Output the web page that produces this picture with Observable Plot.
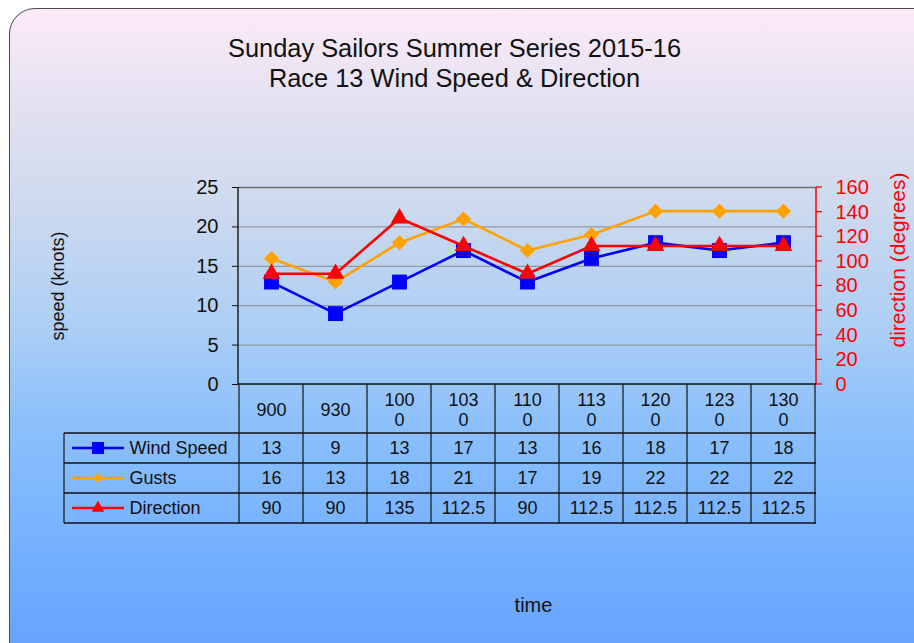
<!DOCTYPE html>
<html>
<head>
<meta charset="utf-8">
<script src="https://cdn.jsdelivr.net/npm/d3@7"></script>
<script src="https://cdn.jsdelivr.net/npm/@observablehq/plot@0.6"></script>
<style>
  html, body { margin: 0; padding: 0; background: #ffffff; }
  body { width: 914px; height: 643px; overflow: hidden; position: relative; font-family: "Liberation Sans", Arial, sans-serif; }
  #bg {
    position: absolute; left: 9px; top: 8px; width: 940px; height: 680px;
    border: 1px solid #4a4a4a; border-radius: 26px;
    background: linear-gradient(to bottom, #fdeaf8 0%, #e3e1f1 14%, #cfdaee 28%, #aecff5 46%, #8dc1fb 60%, #74b0ff 80%, #5f9eff 100%);
  }
  #chart { position: absolute; left: 0; top: 0; }
</style>
</head>
<body>
<div id="bg"></div>
<div id="chart"></div>
<script>
// ---- data ----
const times = ["900", "930", "1000", "1030", "1100", "1130", "1200", "1230", "1300"];
const windSpeed = [13, 9, 13, 17, 13, 16, 18, 17, 18];
const gusts = [16, 13, 18, 21, 17, 19, 22, 22, 22];
const direction = [90, 90, 135, 112.5, 90, 112.5, 112.5, 112.5, 112.5];
const speedTicks = [0, 5, 10, 15, 20, 25];
const directionTicks = [0, 20, 40, 60, 80, 100, 120, 140, 160];
const seriesNames = ["Wind Speed", "Gusts", "Direction"];
const seriesColors = ["#0000ff", "#ffa200", "#ff0000"];
const seriesSymbols = ["square", "diamond2", "triangle"];
const titleLines = ["Sunday Sailors Summer Series 2015-16", "Race 13 Wind Speed & Direction"];
const yLabel = "speed (knots)";
const y2Label = "direction (degrees)";
const xLabel = "time";

// ---- derived ----
const speedMax = 25, directionMax = 160;
const k = speedMax / directionMax; // secondary axis -> primary scale
const seriesValues = [windSpeed, gusts, direction];
const toY = (i) => (d) => (i === 2 ? d * k : d);
const headerText = (t) => (t.length > 3 ? t.slice(0, 3) + "\n" + t.slice(3) : t);

const headerH = 49, rowH = 30, legendLeft = 64;
const dotR = [8.4, 6.8, 6.6];
const legendSize = [144, 60, 70];
const d3Symbols = [d3.symbolSquare, d3.symbolDiamond2, d3.symbolTriangle];

function tableFrame(index, scales, values, dims) {
  const x = scales.x, y = scales.y, bw = x.bandwidth();
  const L = dims.marginLeft, R = dims.width - dims.marginRight;
  const T = dims.marginTop, B = dims.height - dims.marginBottom;
  const g = d3.create("svg:g");
  const line = (x1, y1, x2, y2, stroke, w) =>
    g.append("line").attr("x1", x1).attr("y1", y1).attr("x2", x2).attr("y2", y2)
      .attr("stroke", stroke).attr("stroke-width", w);
  const bottom = B + headerH + rowH * seriesNames.length;
  // axis lines
  line(L, T, L, B, "#222", 1.5);
  line(R, T, R, B, "#ff0000", 1.5);
  directionTicks.forEach((t) => { const yy = y(t * k); line(R, yy, R + 6, yy, "#ff0000", 1.3); });
  line(L, B, R, B, "#111", 1.5);
  // column boundaries
  const bounds = times.map((t) => x(t)).concat([x(times[times.length - 1]) + bw]);
  bounds.forEach((bx) => line(bx, B, bx, bottom, "#222", 1.3));
  // row boundaries
  for (let r = 0; r <= seriesNames.length; r++) {
    const yy = B + headerH + r * rowH;
    line(legendLeft, yy, R, yy, "#111", 1.3);
  }
  line(legendLeft, B + headerH, legendLeft, bottom, "#222", 1.3);
  // legend swatches
  seriesNames.forEach((n, i) => {
    const cy = B + headerH + rowH * i + rowH / 2;
    line(72, cy, 124, cy, seriesColors[i], 2.5);
    g.append("path").attr("transform", `translate(98,${cy})`)
      .attr("d", d3.symbol(d3Symbols[i], legendSize[i])())
      .attr("fill", seriesColors[i]);
  });
  return g.node();
}

const marks = [
  Plot.gridY(speedTicks.filter((t) => t > 0 && t < speedMax), {stroke: "#8a8a8a", strokeOpacity: 1, strokeWidth: 1}),
  Plot.ruleY([speedMax], {stroke: "#6e6e6e", strokeWidth: 1.6}),
  Plot.axisY(speedTicks, {anchor: "left", tickSize: 6, tickPadding: 14, fontSize: 20, label: null, color: "#111"}),
  Plot.text(directionTicks, {y: (d) => d * k, text: (d) => String(d), frameAnchor: "right", textAnchor: "start",
    lineAnchor: "middle", dx: 19, fontSize: 20, fill: "#ff0000"}),
  tableFrame
];
seriesValues.forEach((vals, i) => {
  marks.push(Plot.line(vals, {x: (d, j) => times[j], y: toY(i), stroke: seriesColors[i], strokeWidth: 2.6}));
  marks.push(Plot.dot(vals, {x: (d, j) => times[j], y: toY(i), symbol: seriesSymbols[i], fill: seriesColors[i], r: dotR[i]}));
});
// table text
marks.push(Plot.text(times, {x: (d) => d, text: headerText, frameAnchor: "bottom", dy: 25, fontSize: 18, lineHeight: 1.12, lineAnchor: "middle", fill: "#111"}));
seriesValues.forEach((vals, i) => {
  marks.push(Plot.text(vals, {x: (d, j) => times[j], text: (d) => String(d), frameAnchor: "bottom", lineAnchor: "middle",
    dy: headerH + rowH * i + rowH / 2, fontSize: 18, fill: "#111"}));
  marks.push(Plot.text([seriesNames[i]], {text: (d) => d, frameAnchor: "bottom-left", textAnchor: "start", lineAnchor: "middle",
    dx: 129 - 238, dy: headerH + rowH * i + rowH / 2, fontSize: 18, fill: "#111"}));
});
// titles & labels
marks.push(Plot.text([titleLines.join("\n")], {text: (d) => d, frameAnchor: "top", dx: -73, dy: -125, fontSize: 25.4, lineHeight: 1.19, lineAnchor: "middle", textAnchor: "middle", fill: "#111"}));
marks.push(Plot.text([yLabel], {text: (d) => d, frameAnchor: "left", textAnchor: "middle", lineAnchor: "middle", rotate: -90, dx: -180, dy: 0, fontSize: 18, fill: "#111"}));
marks.push(Plot.text([y2Label], {text: (d) => d, frameAnchor: "right", textAnchor: "middle", lineAnchor: "middle", rotate: -90, dx: 82, dy: -26, fontSize: 21, fill: "#ff0000"}));
marks.push(Plot.text([xLabel], {text: (d) => d, frameAnchor: "bottom", textAnchor: "middle", lineAnchor: "middle", dx: 6, dy: 221, fontSize: 20, fill: "#111"}));

const chart = Plot.plot({
  width: 914,
  height: 643,
  marginLeft: 238,
  marginRight: 98,
  marginTop: 187,
  marginBottom: 259,
  style: {background: "transparent", fontFamily: "'Liberation Sans', Arial, sans-serif", overflow: "visible", color: "#111"},
  x: {type: "band", domain: times, padding: 0, axis: null},
  y: {domain: [0, speedMax]},
  marks
});
document.getElementById("chart").appendChild(chart);
</script>
</body>
</html>
